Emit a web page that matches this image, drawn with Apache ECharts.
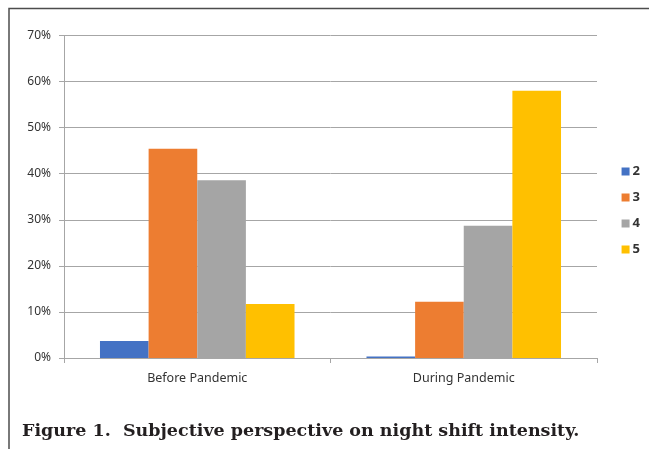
<!DOCTYPE html>
<html>
<head>
<meta charset="utf-8">
<script src="https://cdn.jsdelivr.net/npm/echarts@6/dist/echarts.min.js"></script>
<style>
  html, body { margin: 0; padding: 0; background: #ffffff; }
  #chart { width: 649px; height: 449px; }
</style>
</head>
<body>
<div id="chart"></div>
<script>
// Categories and responses (percent of respondents per intensity rating)
var categories = ['Before Pandemic', 'During Pandemic'];
var ratingNames = ['2', '3', '4', '5'];
var rating2 = [3.7, 0.3];
var rating3 = [45.4, 12.2];
var rating4 = [38.6, 28.7];
var rating5 = [11.7, 58.0];
var yTicks = [0, 10, 20, 30, 40, 50, 60, 70];
var captionText = 'Figure 1.  Subjective perspective on night shift intensity.';

var palette = ['#4472C4', '#ED7D31', '#A5A5A5', '#FFC000'];
var seriesValues = [rating2, rating3, rating4, rating5];

var chart = echarts.init(document.getElementById('chart'), null, { renderer: 'canvas' });

var series = ratingNames.map(function (name, i) {
  return {
    name: name,
    type: 'bar',
    data: seriesValues[i],
    barGap: '0%',
    barCategoryGap: '27%',
    itemStyle: { color: palette[i] },
    emphasis: { disabled: true }
  };
});

chart.setOption({
  animation: false,
  backgroundColor: '#ffffff',
  color: palette,
  grid: { left: 64, right: 52, top: 35.5, bottom: 91, containLabel: false },
  legend: {
    orient: 'vertical',
    right: 4,
    top: 160,
    itemWidth: 8,
    itemHeight: 8,
    itemGap: 13,
    icon: 'rect',
    data: ratingNames,
    textStyle: { fontFamily: 'Noto Sans', fontSize: 13, color: '#333333', fontWeight: 'bold', padding: [0, 0, 0, -2] }
  },
  xAxis: {
    type: 'category',
    data: categories,
    boundaryGap: true,
    axisLine: { show: true, lineStyle: { color: '#a6a6a6', width: 1 } },
    axisTick: { show: true, length: 5, lineStyle: { color: '#a6a6a6' } },
    axisLabel: { fontFamily: 'Noto Sans', fontSize: 12.5, color: '#333333', margin: 14 }
  },
  yAxis: {
    type: 'value',
    min: yTicks[0],
    max: yTicks[yTicks.length - 1],
    interval: 10,
    axisLine: { show: true, lineStyle: { color: '#a6a6a6', width: 1 } },
    axisTick: { show: true, length: 5, lineStyle: { color: '#a6a6a6' } },
    axisLabel: { formatter: '{value}%', fontFamily: 'Noto Sans', fontSize: 12, color: '#333333', margin: 13 },
    splitLine: { show: true, lineStyle: { color: '#a6a6a6', width: 1 } }
  },
  series: series,
  graphic: [
    {
      type: 'polyline',
      silent: true,
      shape: { points: [[9, 460], [9, 8.5], [660, 8.5]] },
      style: { stroke: '#4d4d4d', lineWidth: 1.5, fill: null }
    },
    {
      type: 'text',
      x: 22,
      y: 431,
      silent: true,
      style: {
        text: captionText,
        fontFamily: 'DejaVu Serif',
        fontWeight: 'bold',
        fontSize: 17.5,
        verticalAlign: 'middle',
        fill: '#231f20'
      }
    }
  ]
});
</script>
</body>
</html>
